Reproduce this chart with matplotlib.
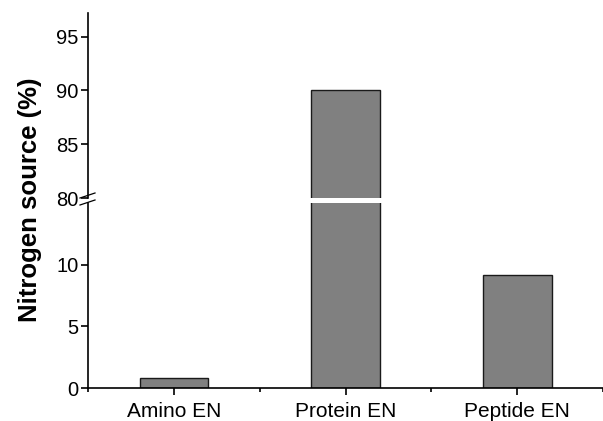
import numpy as np
import matplotlib.pyplot as plt
from matplotlib.lines import Line2D

plt.rcParams['font.family'] = ['Liberation Sans', 'DejaVu Sans']

categories = ['Amino EN', 'Protein EN', 'Peptide EN']
values = [0.8, 90.0, 9.2]

low_ticks = [0, 5, 10]
high_ticks = [80, 85, 90, 95]

fig = plt.figure(figsize=(6.03, 4.21), dpi=100)
W, H = 603, 421
left = 88 / W
width = 1.0 - left

# axes in pixel rows (top = 0)
low_bot, low_top = 388, 203
high_bot, high_top = 198, 13

ax_lo = fig.add_axes([left, (H - low_bot) / H, width, (low_bot - low_top) / H])
ax_hi = fig.add_axes([left, (H - high_bot) / H, width, (high_bot - high_top) / H])

x = np.arange(1, len(categories) + 1)
for ax in (ax_lo, ax_hi):
    ax.bar(x, values, width=0.4, color='#808080', edgecolor='#1a1a1a', linewidth=1.0, clip_on=True)
    ax.set_xlim(0.5, 3.5)
    ax.spines['top'].set_visible(False)
    ax.spines['right'].set_visible(False)
    ax.spines['left'].set_linewidth(1.2)
    ax.tick_params(axis='y', direction='out', length=5, width=1.2, labelsize=14.5, pad=2)

ax_lo.set_ylim(0, 15)
ax_lo.set_yticks(low_ticks)
ax_lo.spines['bottom'].set_linewidth(1.2)
ax_lo.set_xticks(x)
ax_lo.set_xticklabels(categories, fontsize=15)
ax_lo.set_xticks([0.5, 1.5, 2.5, 3.5], minor=True)
ax_lo.tick_params(axis='x', which='major', direction='out', length=5, width=1.2, pad=5)
ax_lo.tick_params(axis='x', which='minor', direction='out', length=3, width=1.2)

ax_hi.set_ylim(80, 97.2)
ax_hi.set_yticks(high_ticks)
ax_hi.spines['bottom'].set_visible(False)
ax_hi.set_xticks([])

# break marks on the left spine
for y0 in (193, 200):
    fig.add_artist(Line2D([80 / W, 95 / W], [(H - y0 - 5) / H, (H - y0) / H],
                          color='black', linewidth=0.9))

fig.text(30 / W, (H - 200) / H, 'Nitrogen source (%)', rotation=90, fontsize=18.5,
         fontweight='bold', ha='center', va='center')

fig.savefig('out.png', dpi=100, facecolor='white')
